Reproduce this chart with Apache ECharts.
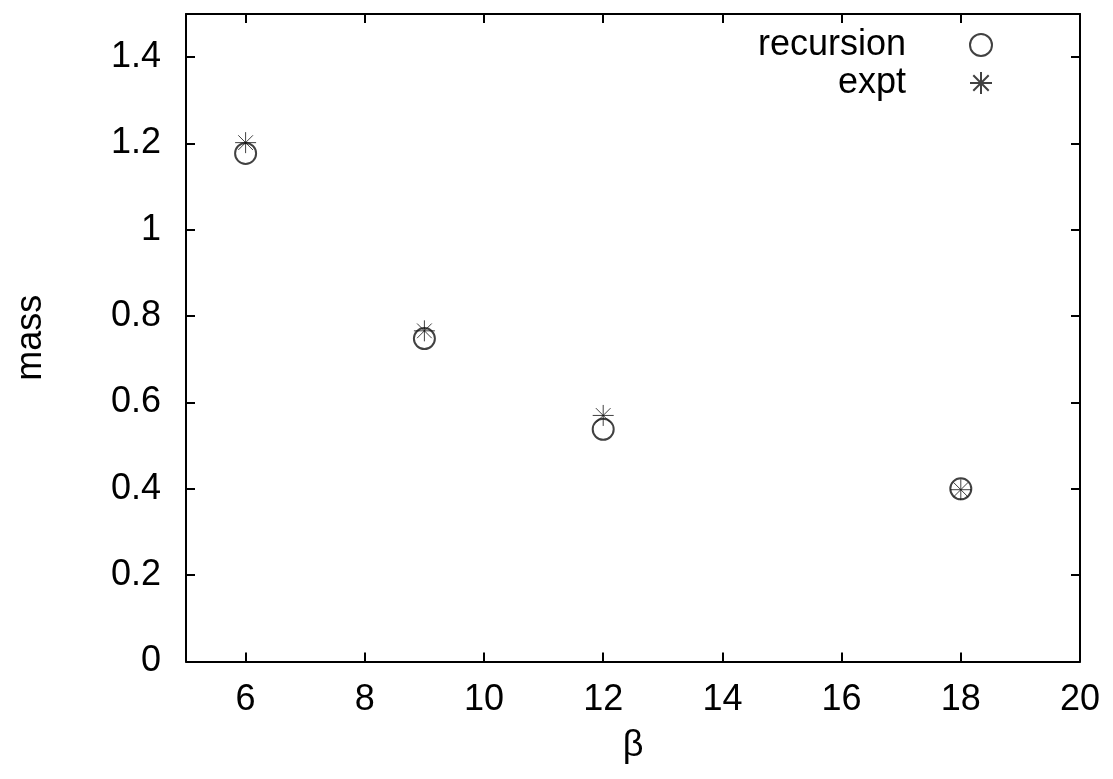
<!DOCTYPE html>
<html>
<head>
<meta charset="utf-8">
<script src="https://cdn.jsdelivr.net/npm/echarts@6/dist/echarts.min.js"></script>
<style>html,body{margin:0;padding:0;background:#fff}#c{width:1113px;height:779px}</style>
</head>
<body>
<div id="c"></div>
<script>
const betaValues = [6, 9, 12, 18];
const recursionMass = [1.177, 0.748, 0.538, 0.400];
const exptMass = [1.202, 0.766, 0.570, 0.398];
const xTicks = [6, 8, 10, 12, 14, 16, 18, 20];
const yTicks = [0, 0.2, 0.4, 0.6, 0.8, 1, 1.2, 1.4];
const seriesNames = ['recursion', 'expt'];

const FONT = 'Liberation Sans';
const FS = 36;
const starPath = 'path://M0,10L20,10M10,0L10,20M3,3L17,17M17,3L3,17';

const chart = echarts.init(document.getElementById('c'), null, {renderer: 'canvas'});
const axisLineStyle = {color: '#000', width: 2};
const tickStyle = {color: '#000', width: 2};
const xAxisBase = {
  type: 'value', min: 5, max: 20,
  axisLine: {show: true, onZero: false, lineStyle: axisLineStyle},
  axisTick: {show: true, inside: true, length: 9, lineStyle: tickStyle, customValues: xTicks},
  splitLine: {show: false}
};
const yAxisBase = {
  type: 'value', min: 0, max: 1.5,
  axisLine: {show: true, onZero: false, lineStyle: axisLineStyle},
  axisTick: {show: true, inside: true, length: 9, lineStyle: tickStyle, customValues: yTicks},
  splitLine: {show: false}
};
chart.setOption({
  backgroundColor: '#fff',
  animation: false,
  grid: {left: 186, right: 33, top: 14, bottom: 117.5, containLabel: false},
  legend: {
    data: seriesNames,
    orient: 'vertical',
    align: 'right',
    right: 115,
    top: 22,
    itemWidth: 140,
    itemHeight: 22,
    itemGap: 2,
    selectedMode: false,
    textStyle: {fontFamily: FONT, fontSize: FS, color: '#000'}
  },
  xAxis: [
    Object.assign({}, xAxisBase, {
      position: 'bottom',
      name: 'β', nameLocation: 'middle', nameGap: 67,
      nameTextStyle: {fontFamily: FONT, fontSize: FS, color: '#000'},
      axisLabel: {show: true, margin: 21, customValues: xTicks, fontFamily: FONT, fontSize: FS, color: '#000'}
    }),
    Object.assign({}, xAxisBase, {position: 'top', axisLabel: {show: false}})
  ],
  yAxis: [
    Object.assign({}, yAxisBase, {
      position: 'left',
      name: 'mass', nameLocation: 'middle', nameGap: 137,
      nameTextStyle: {fontFamily: FONT, fontSize: FS, color: '#000'},
      axisLabel: {show: true, margin: 25, customValues: yTicks, fontFamily: FONT, fontSize: FS, color: '#000'}
    }),
    Object.assign({}, yAxisBase, {position: 'right', axisLabel: {show: false}})
  ],
  series: [
    {
      name: seriesNames[0], type: 'scatter', xAxisIndex: 0, yAxisIndex: 0,
      symbol: 'emptyCircle', symbolSize: 21,
      itemStyle: {color: '#111', borderColor: '#111', borderWidth: 1},
      data: betaValues.map((b, i) => [b, recursionMass[i]])
    },
    {
      name: seriesNames[1], type: 'scatter', xAxisIndex: 0, yAxisIndex: 0,
      symbol: starPath, symbolSize: 21,
      itemStyle: {color: 'rgba(0,0,0,0)', borderColor: '#111', borderWidth: 1},
      data: betaValues.map((b, i) => [b, exptMass[i]])
    }
  ]
});
</script>
</body>
</html>
